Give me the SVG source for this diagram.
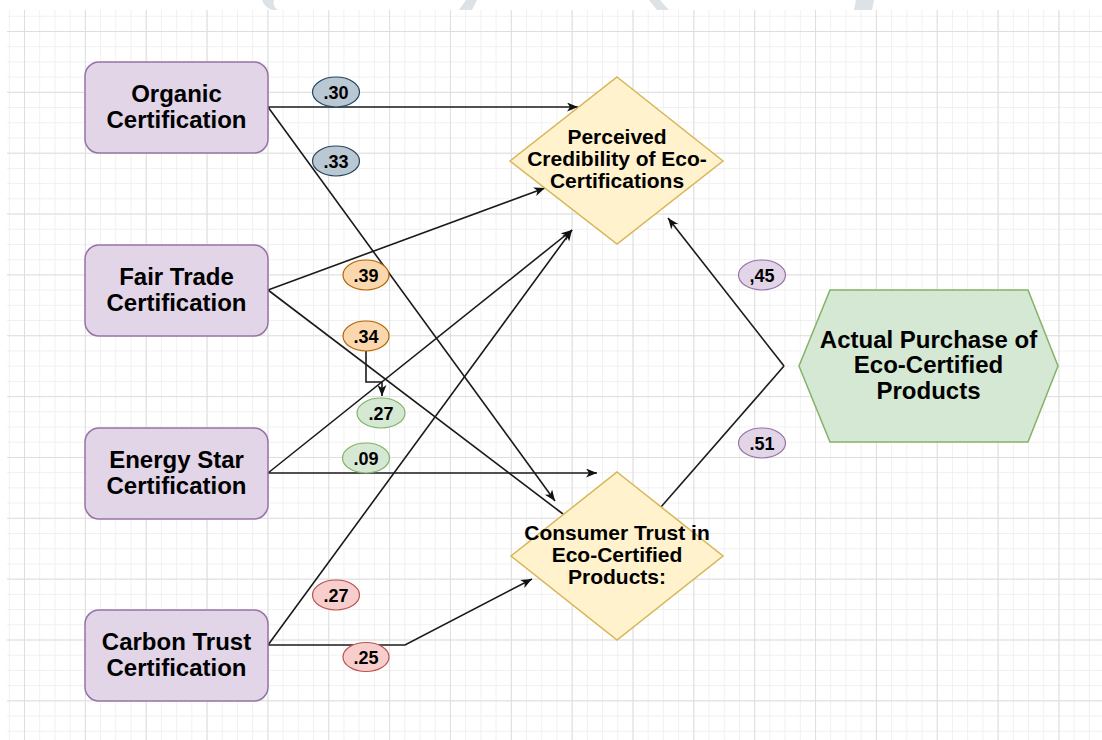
<svg xmlns="http://www.w3.org/2000/svg" width="1102" height="740" viewBox="0 0 1102 740">
  <defs>
    <pattern id="minor" patternUnits="userSpaceOnUse" x="24" y="31" width="15.2125" height="15.2125">
      <path d="M0,0.5 H15.2125 M0.5,0 V15.2125" fill="none" stroke="#f0f0f0" stroke-width="1"/>
    </pattern>
    <pattern id="major" patternUnits="userSpaceOnUse" x="24" y="31" width="60.85" height="60.85">
      <path d="M0,0.5 H60.85 M0.5,0 V60.85" fill="none" stroke="#dedede" stroke-width="1"/>
    </pattern>
    <marker id="arr" markerUnits="userSpaceOnUse" markerWidth="12" markerHeight="10" refX="11" refY="4.5" orient="auto">
      <path d="M0,0 L11,4.5 L0,9 L3,4.5 Z" fill="#111"/>
    </marker>
    <style>
      .edge { fill: none; stroke: #1a1a1a; stroke-width: 1.6; }
      .box { fill: #e1d5e7; stroke: #9673a6; stroke-width: 1.5; }
      .dia { fill: #fff2cc; stroke: #d6b656; stroke-width: 1.5; }
      .hex { fill: #d5e8d4; stroke: #82b366; stroke-width: 1.5; }
      .t { font-family: "Liberation Sans", Arial, sans-serif; font-weight: bold; fill: #000; text-anchor: middle; }
      .t24 { font-size: 24px; }
      .t21 { font-size: 21px; }
      .lbl { font-size: 18px; }
      .lb-blue { fill: #bac8d3; stroke: #23445d; stroke-width: 1.2; }
      .lb-orange { fill: #fad7ac; stroke: #b46504; stroke-width: 1.2; }
      .lb-green { fill: #d5e8d4; stroke: #82b366; stroke-width: 1.2; }
      .lb-red { fill: #f8cecc; stroke: #b85450; stroke-width: 1.2; }
      .lb-purple { fill: #e1d5e7; stroke: #9673a6; stroke-width: 1.2; }
    </style>
  </defs>

  <!-- background -->
  <rect x="0" y="0" width="1102" height="740" fill="#ffffff"/>
  <rect x="7" y="10" width="1095" height="730" fill="url(#minor)"/>
  <rect x="7" y="10" width="1095" height="730" fill="url(#major)"/>
  <g id="watermark" fill="#dce2e5">
    <path d="M256,0 L262,0 Q264,7 272,10 L278,10 Q272,6 274,0 Z"/>
    <path d="M466,0 L477,0 L472,10 L459,10 Z"/>
    <path d="M649,0 L660,0 L669,10 L657,10 Z"/>
    <path d="M856,0 L874,0 L872,10 L854,10 Z"/>
  </g>

  <!-- connectors -->
  <g id="connectors">
    <path class="edge" d="M268,107 L578,107" marker-end="url(#arr)"/>
    <path class="edge" d="M268,107 L555,501" marker-end="url(#arr)"/>
    <path class="edge" d="M268,290 L545,188" marker-end="url(#arr)"/>
    <path class="edge" d="M268,290 L563,514"/>
    <path class="edge" d="M268,473 L572,230" marker-end="url(#arr)"/>
    <path class="edge" d="M268,473 L597,473" marker-end="url(#arr)"/>
    <path class="edge" d="M268,645 L572,230" marker-end="url(#arr)"/>
    <path class="edge" d="M268,645 L405,645 L532,579" marker-end="url(#arr)"/>
    <path class="edge" d="M366,351 L366,382 L382,382 L382,396" marker-end="url(#arr)"/>
    <path class="edge" d="M784,366 L668,218" marker-end="url(#arr)"/>
    <path class="edge" d="M784,366 L661,507"/>
  </g>

  <!-- nodes -->
  <g id="organic">
    <rect class="box" x="85" y="62" width="183" height="91" rx="14" ry="14"/>
    <text class="t t24" x="176.5" y="102">Organic</text>
    <text class="t t24" x="176.5" y="128">Certification</text>
  </g>
  <g id="fairtrade">
    <rect class="box" x="85" y="245" width="183" height="91" rx="14" ry="14"/>
    <text class="t t24" x="176.5" y="285">Fair Trade</text>
    <text class="t t24" x="176.5" y="311">Certification</text>
  </g>
  <g id="energystar">
    <rect class="box" x="85" y="428" width="183" height="91" rx="14" ry="14"/>
    <text class="t t24" x="176.5" y="468">Energy Star</text>
    <text class="t t24" x="176.5" y="494">Certification</text>
  </g>
  <g id="carbontrust">
    <rect class="box" x="85" y="610" width="183" height="91" rx="14" ry="14"/>
    <text class="t t24" x="176.5" y="650">Carbon Trust</text>
    <text class="t t24" x="176.5" y="676">Certification</text>
  </g>
  <g id="credibility">
    <polygon class="dia" points="617,77 723,161 617,244 510,161"/>
    <text class="t t21" x="617" y="144">Perceived</text>
    <text class="t t21" x="617" y="166">Credibility of Eco-</text>
    <text class="t t21" x="617" y="188">Certifications</text>
  </g>
  <g id="trust">
    <polygon class="dia" points="617,472 723,556 617,640 511,556"/>
    <text class="t t21" x="617" y="540">Consumer Trust in</text>
    <text class="t t21" x="617" y="562">Eco-Certified</text>
    <text class="t t21" x="617" y="584">Products:</text>
  </g>
  <g id="purchase">
    <polygon class="hex" points="830,290 1028,290 1058,366 1028,442 830,442 799,366"/>
    <text class="t t24" x="928.5" y="348">Actual Purchase of</text>
    <text class="t t24" x="928.5" y="373">Eco-Certified</text>
    <text class="t t24" x="928.5" y="399">Products</text>
  </g>

  <!-- edge labels -->
  <g id="labels">
    <ellipse class="lb-blue" cx="336" cy="92" rx="23.5" ry="15"/>
    <text class="t lbl" x="336" y="98.5">.30</text>
    <ellipse class="lb-blue" cx="336" cy="161" rx="23.5" ry="15"/>
    <text class="t lbl" x="336" y="167.5">.33</text>
    <ellipse class="lb-orange" cx="366" cy="275" rx="23" ry="15"/>
    <text class="t lbl" x="366" y="281.5">.39</text>
    <ellipse class="lb-orange" cx="366" cy="336" rx="23" ry="15"/>
    <text class="t lbl" x="366" y="342.5">.34</text>
    <ellipse class="lb-green" cx="381" cy="413" rx="24" ry="15"/>
    <text class="t lbl" x="381" y="419.5">.27</text>
    <ellipse class="lb-green" cx="366" cy="458" rx="23.5" ry="15"/>
    <text class="t lbl" x="366" y="464.5">.09</text>
    <ellipse class="lb-red" cx="336" cy="595" rx="23.5" ry="15"/>
    <text class="t lbl" x="336" y="601.5">.27</text>
    <ellipse class="lb-red" cx="366" cy="657" rx="23" ry="14.5"/>
    <text class="t lbl" x="366" y="663.5">.25</text>
    <ellipse class="lb-purple" cx="762" cy="275" rx="23.5" ry="15"/>
    <text class="t lbl" x="762" y="281.5">,45</text>
    <ellipse class="lb-purple" cx="762" cy="443" rx="23.5" ry="15"/>
    <text class="t lbl" x="762" y="449.5">.51</text>
  </g>
</svg>
